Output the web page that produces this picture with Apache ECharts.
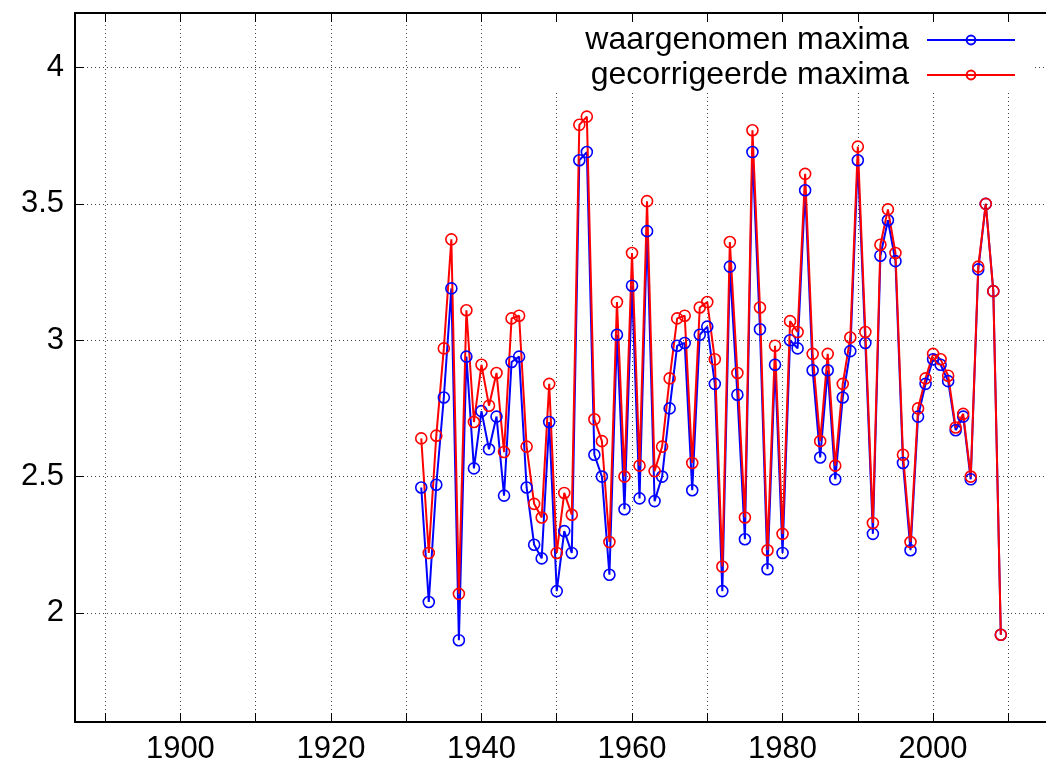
<!DOCTYPE html>
<html>
<head>
<meta charset="utf-8">
<script src="https://cdn.jsdelivr.net/npm/echarts@6/dist/echarts.min.js"></script>
<style>
  html, body { margin: 0; padding: 0; background: #fff; }
  #chart { width: 1046px; height: 775px; }
</style>
</head>
<body>
<div id="chart"></div>
<script>
// years 1932..2009
const years = [];
for (let y = 1932; y <= 2009; y++) years.push(y);

const observed = [
  2.46, 2.04, 2.47, 2.79, 3.19, 1.90, 2.94, 2.53, 2.74, 2.60,
  2.72, 2.43, 2.92, 2.94, 2.46, 2.25, 2.20, 2.70, 2.08, 2.30,
  2.22, 3.66, 3.69, 2.58, 2.50, 2.14, 3.02, 2.38, 3.20, 2.42,
  3.40, 2.41, 2.50, 2.75, 2.98, 2.99, 2.45, 3.02, 3.05, 2.84,
  2.08, 3.27, 2.80, 2.27, 3.69, 3.04, 2.16, 2.91, 2.22, 3.00,
  2.97, 3.55, 2.89, 2.57, 2.89, 2.49, 2.79, 2.96, 3.66, 2.99,
  2.29, 3.31, 3.44, 3.29, 2.55, 2.23, 2.72, 2.84, 2.93, 2.91,
  2.85, 2.67, 2.72, 2.49, 3.26, 3.50, 3.18, 1.92
];

const corrected = [
  2.64, 2.22, 2.65, 2.97, 3.37, 2.07, 3.11, 2.70, 2.91, 2.76,
  2.88, 2.59, 3.08, 3.09, 2.61, 2.40, 2.35, 2.84, 2.22, 2.44,
  2.36, 3.79, 3.82, 2.71, 2.63, 2.26, 3.14, 2.50, 3.32, 2.54,
  3.51, 2.52, 2.61, 2.86, 3.08, 3.09, 2.55, 3.12, 3.14, 2.93,
  2.17, 3.36, 2.88, 2.35, 3.77, 3.12, 2.23, 2.98, 2.29, 3.07,
  3.03, 3.61, 2.95, 2.63, 2.95, 2.54, 2.84, 3.01, 3.71, 3.03,
  2.33, 3.35, 3.48, 3.32, 2.58, 2.26, 2.75, 2.86, 2.95, 2.93,
  2.87, 2.68, 2.73, 2.50, 3.27, 3.50, 3.18, 1.92
];

const xTicks = [1890, 1900, 1910, 1920, 1930, 1940, 1950, 1960, 1970, 1980, 1990, 2000, 2010];
const xLabels = [1900, 1920, 1940, 1960, 1980, 2000];
const yTicks = [2, 2.5, 3, 3.5, 4];

const font = 'Liberation Sans, Arial, sans-serif';
const gridLine = { show: true, lineStyle: { color: '#444', width: 1, type: [1, 3] } };

const chart = echarts.init(document.getElementById('chart'));

const makeSeries = (name, values, color) => ({
  name: name,
  type: 'line',
  data: years.map((y, i) => [y, values[i]]),
  symbol: 'circle',
  symbolSize: 11,
  showSymbol: true,
  lineStyle: { color: color, width: 2 },
  itemStyle: { color: 'rgba(255,255,255,0)', borderColor: color, borderWidth: 1.6 },
  emphasis: { disabled: true }
});

chart.setOption({
  animation: false,
  grid: { left: 75, top: 13, right: -2, bottom: 53 },
  legend: {
    orient: 'vertical',
    align: 'right',
    right: 11,
    top: 22,
    padding: [2, 19, 1, 64],
    backgroundColor: '#fff',
    itemWidth: 88,
    itemHeight: 11,
    itemGap: 3,
    textStyle: { fontFamily: font, fontSize: 32, color: '#000', lineHeight: 31, padding: [0, 13, 0, 0] },
    data: ['waargenomen maxima', 'gecorrigeerde maxima']
  },
  xAxis: [
    {
      type: 'value',
      min: 1886,
      max: 2015,
      axisLine: { show: true, lineStyle: { color: '#000', width: 2 } },
      axisTick: { show: true, inside: true, length: 9, customValues: xTicks, lineStyle: { color: '#000', width: 1 } },
      axisLabel: { customValues: xLabels, formatter: v => String(v), fontFamily: font, fontSize: 31, color: '#000', margin: 12 },
      splitLine: gridLine
    },
    {
      type: 'value',
      position: 'top',
      min: 1886,
      max: 2015,
      axisLine: { show: true, lineStyle: { color: '#000', width: 2 } },
      axisTick: { show: true, inside: true, length: 9, customValues: xTicks, lineStyle: { color: '#000', width: 1 } },
      axisLabel: { show: false },
      splitLine: { show: false }
    }
  ],
  yAxis: {
    type: 'value',
    min: 1.6,
    max: 4.2,
    axisLine: { show: true, lineStyle: { color: '#000', width: 2 } },
    axisTick: { show: true, inside: true, length: 9, customValues: yTicks, lineStyle: { color: '#000', width: 1 } },
    axisLabel: { customValues: yTicks, fontFamily: font, fontSize: 31, color: '#000', margin: 11 },
    splitLine: gridLine
  },
  series: [
    makeSeries('waargenomen maxima', observed, '#0000ff'),
    makeSeries('gecorrigeerde maxima', corrected, '#ff0000')
  ]
});
</script>
</body>
</html>
